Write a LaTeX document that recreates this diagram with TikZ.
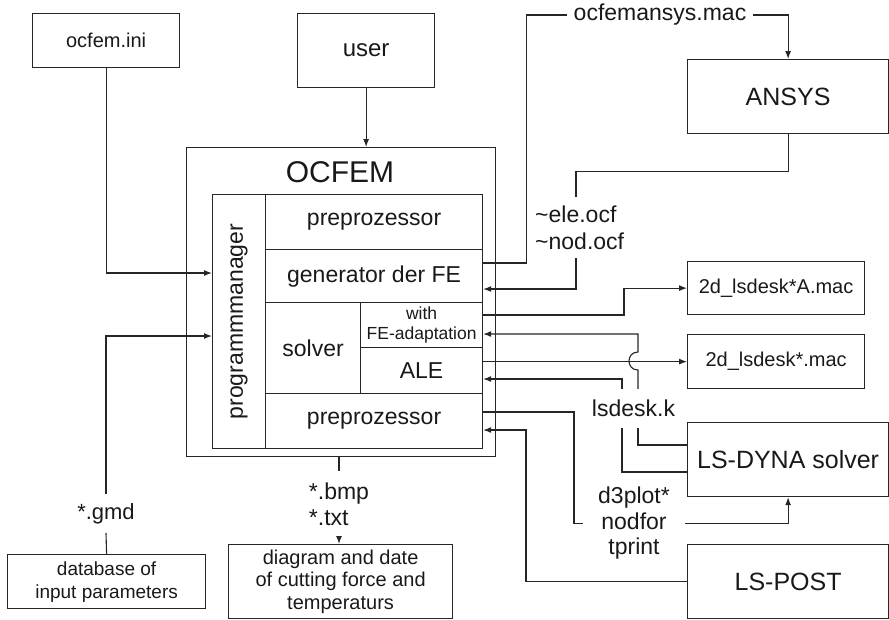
\documentclass[tikz,border=0pt]{standalone}
\usepackage{fontspec}
\setmainfont{Liberation Sans}
\usetikzlibrary{arrows.meta}
\newcommand\myfs[2]{\fontsize{#1pt}{#2pt}\selectfont}
\begin{document}
\begin{tikzpicture}[x=1pt,y=-1pt,
  box/.style={draw=black!85, line width=1.2pt, inner sep=0pt, anchor=north west, align=center, text=black!90},
  lbl/.style={inner sep=0pt, align=center, text=black!90},
  conn/.style={draw=black!85, line width=1.1pt},
  arr/.style={conn, -{Latex[length=8pt,width=6pt]}},
  big/.style={font=\myfs{23}{27}}]
\useasboundingbox (0,0) rectangle (889,619);

% boxes
\node[box, minimum width=147pt, minimum height=54pt, font=\myfs{20}{24}] (ini) at (32,13) {ocfem.ini};
\node[box, minimum width=137pt, minimum height=74pt, font=\myfs{24}{28}] (user) at (297,13) {user};
\node[box, minimum width=309pt, minimum height=309pt] (outer) at (186,147) {};
\node[lbl, font=\myfs{30}{34}] (title) at (340,172) {OCFEM};
\node[box, minimum width=53pt, minimum height=254pt] (pm) at (212,194) {};
\node[lbl, rotate=90, big] (pmtext) at (pm.center) {programmmanager};
\node[box, minimum width=217pt, minimum height=55pt, big] (prepA) at (265,194) {preprozessor};
\node[box, minimum width=217pt, minimum height=53pt, big] (gen) at (265,249) {generator der FE};
\node[box, minimum width=95pt, minimum height=91pt, big] (solver) at (265,302) {solver};
\node[box, minimum width=122pt, minimum height=45pt, font=\myfs{17.5}{20}] (with) at (360,302) {with\\FE-adaptation};
\node[box, minimum width=122pt, minimum height=46pt, big] (ale) at (360,347) {ALE};
\node[box, minimum width=217pt, minimum height=55pt, big] (prepB) at (265,393) {preprozessor};

\node[box, minimum width=201pt, minimum height=74pt, font=\myfs{25}{29}] (ansys) at (687,59) {ANSYS};
\node[box, minimum width=177pt, minimum height=53pt, font=\myfs{20}{24}] (macA) at (687,261) {2d\_lsdesk*A.mac};
\node[box, minimum width=177pt, minimum height=54pt, font=\myfs{20}{24}] (mac) at (687,334) {2d\_lsdesk*.mac};
\node[box, minimum width=201pt, minimum height=74pt, font=\myfs{25}{29}] (dyna) at (687,422) {LS-DYNA solver};
\node[box, minimum width=201pt, minimum height=74pt, font=\myfs{25}{29}] (post) at (687,544) {LS-POST};

\node[box, minimum width=198pt, minimum height=54pt, font=\myfs{19}{23}] (db) at (7,554) {database of\\input parameters};
\node[box, minimum width=224pt, minimum height=74pt, font=\myfs{20}{22.5}] (diag) at (228,544) {diagram and date\\of cutting force and\\temperaturs};

% labels on connectors
\node[lbl, big, inner xsep=7pt] (ansysmac) at (660,15) {ocfemansys.mac};
\node[lbl, big, align=left, anchor=west, minimum height=61pt] (elenod) at (535,227.5) {\textasciitilde ele.ocf\\\textasciitilde nod.ocf};
\node[lbl, big, minimum height=39pt] (lsk) at (633.5,408.5) {lsdesk.k};
\node[lbl, font=\myfs{23}{25.5}, inner xsep=15pt] (d3) at (634,523.5) {d3plot*\\nodfor\\tprint};
\node[lbl, font=\myfs{22}{26}, minimum height=39pt] (gmd) at (106,513.5) {*.gmd};
\node[lbl, font=\myfs{23}{26}, align=left, minimum height=66pt] (bmp) at (339,504) {*.bmp\\*.txt};

% connectors
\draw[arr] (user.south) -- (user.south |- outer.north);
\draw[arr] (ini.south) |- (pm.west |- 0,273);
\draw[conn] (db.north) -- (gmd.south);
\draw[arr] (gmd.north) |- (pm.west |- 0,336);
\draw[conn] (bmp.north |- outer.south) -- (bmp.north);
\draw[arr] (bmp.south) -- (bmp.south |- diag.north);

\draw[conn] (gen.east |- 0,263) -| ([xshift=-40pt]ansysmac.west) -- (ansysmac.west);
\draw[arr] (ansysmac.east) -| (ansys.north);
\draw[conn] (ansys.south) -- ++(0,37) -| (elenod.north -| 576,0);
\draw[arr] (elenod.south -| 576,0) |- (gen.east |- 0,289);

\draw[arr] (with.east |- 0,315) -| ([xshift=-63pt]macA.west) -- (macA.west);
\draw[arr] (ale.east |- mac.west) -- (mac.west);

\draw[arr] (lsk.north -| 638,0) -- (638,370) .. controls (626,370) and (626,352) .. (638,352) -- (638,334) -- (with.east |- 0,334);
\draw[conn] (dyna.west |- 0,445) -| (lsk.south -| 638,0);
\draw[conn] (dyna.west |- 0,472) -| (lsk.south -| 622,0);
\draw[arr] (lsk.north -| 622,0) |- (ale.east |- 0,379);

\draw[conn] (prepB.east |- 0,412) -| ([xshift=-9pt]d3.west) -- (d3.west);
\draw[arr] (d3.east) -| (dyna.south);
\draw[arr] (post.west) -- (post.west -| 526,0) |- (prepB.east |- 0,430);
\end{tikzpicture}
\end{document}
